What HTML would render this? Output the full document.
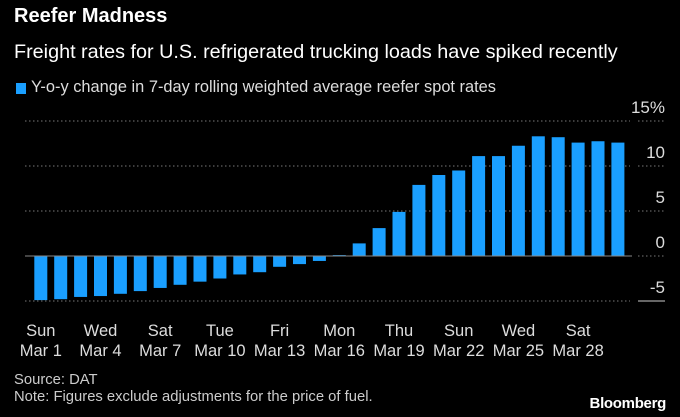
<!DOCTYPE html>
<html><head><meta charset="utf-8"><style>
body{margin:0;background:#000;width:680px;height:417px;overflow:hidden;font-family:"Liberation Sans",sans-serif;color:#fff}
.t{position:absolute;white-space:nowrap}
</style></head><body>
<div class="t" style="left:14px;top:5px;font-size:20px;font-weight:bold">Reefer Madness</div>
<div class="t" style="left:14px;top:41px;font-size:19.8px">Freight rates for U.S. refrigerated trucking loads have spiked recently</div>
<div class="t" style="left:16px;top:83px;width:10px;height:11px;background:#1a9fff"></div>
<div class="t" style="left:31px;top:78px;font-size:16.4px;color:#ddd">Y-o-y change in 7-day rolling weighted average reefer spot rates</div>
<svg id="c" width="680" height="417" style="position:absolute;left:0;top:0"></svg>
<div class="t" style="left:14px;top:372px;font-size:14.8px;color:#ccc">Source: DAT</div>
<div class="t" style="left:14px;top:389px;font-size:14.8px;color:#ccc">Note: Figures exclude adjustments for the price of fuel.</div>
<div class="t" style="right:14px;top:395px;font-size:15px;font-weight:bold;letter-spacing:-0.3px">Bloomberg</div>
<script>
const values=[-4.9,-4.8,-4.55,-4.45,-4.2,-3.9,-3.55,-3.2,-2.85,-2.5,-2.05,-1.8,-1.2,-0.9,-0.55,0.1,1.4,3.1,4.9,7.9,9.0,9.5,11.1,11.1,12.25,13.3,13.2,12.6,12.75,12.6];
const dayLabels=["Sun","Wed","Sat","Tue","Fri","Mon","Thu","Sun","Wed","Sat"];
const dateLabels=["Mar 1","Mar 4","Mar 7","Mar 10","Mar 13","Mar 16","Mar 19","Mar 22","Mar 25","Mar 28"];
const yTicks=[-5,0,5,10,15];
const svg=document.getElementById('c');const NS='http://www.w3.org/2000/svg';
const y=v=>256-v*9;const x=i=>34.3+i*19.9;const bw=13;
function mk(t,a){const e=document.createElementNS(NS,t);for(const k in a)e.setAttribute(k,a[k]);svg.appendChild(e);return e;}
yTicks.forEach(v=>{
 if(v!==0){const g=mk('line',{x1:25,x2:630,y1:y(v),y2:y(v),stroke:'#777','stroke-dasharray':'1.5,2.5'});
 
 }
 const tk=mk('line',{x1:638,x2:665,y1:y(v),y2:y(v),stroke:v===-5?'#ccc':'#777','stroke-dasharray':v===-5?'':'1.5,2.5'});
 
 
 const t=mk('text',{x:665,y:y(v)-8,'text-anchor':'end','font-size':17,fill:'#ddd'});
 t.textContent=v===15?'15%':String(v);
 
 
});
values.forEach((v,i)=>{
 const r=mk('rect',{x:x(i),y:Math.min(y(v),y(0)),width:bw,height:Math.abs(y(v)-y(0)),fill:'#1a9fff'});
 
 
});
const z=mk('line',{x1:25,x2:632,y1:y(0),y2:y(0),stroke:'#888','stroke-width':1});


dayLabels.forEach((d,k)=>{
 const cx=x(k*3)+bw/2;
 const a=mk('text',{x:cx,y:336,'text-anchor':'middle','font-size':16.5,fill:'#ddd'});a.textContent=d;
 
 
 const b=mk('text',{x:cx,y:356,'text-anchor':'middle','font-size':16.5,fill:'#ddd'});b.textContent=dateLabels[k];
 
 
});
</script>
</body></html>
